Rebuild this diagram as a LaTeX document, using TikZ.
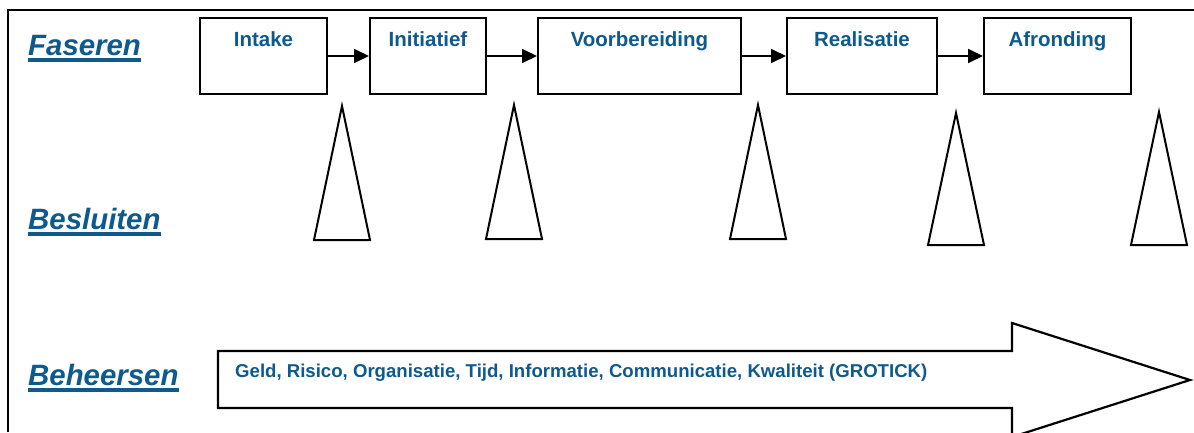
\documentclass[tikz,border=0pt]{standalone}
\usepackage{fontspec}
\setmainfont{Liberation Sans}
\usetikzlibrary{arrows.meta}
\definecolor{phblue}{RGB}{14,90,140}
\tikzset{
  phase/.style={draw=black, line width=2pt, fill=white, inner sep=0pt,
    text height=28pt, text depth=48pt, font=\fontsize{20.5pt}{24pt}\selectfont\bfseries, text=phblue},
  conn/.style={line width=1.8pt, -{Triangle[length=15pt,width=14pt]}},
  heading/.style={anchor=base west, inner sep=0pt, text=phblue, font=\fontsize{29.4pt}{34pt}\selectfont\bfseries\itshape},
  uline/.style={draw=phblue, line width=3.5pt},
  gate/.style={draw=black, line width=2pt, fill=white, line join=miter},
  bigarrow/.style={draw=black, line width=2.2pt, fill=white, line join=miter},
  frameline/.style={draw=black, line width=2.5pt}
}
\begin{document}
\begin{tikzpicture}[x=1pt,y=-1pt]
\useasboundingbox (0,0) rectangle (1194,432);
% frame
\draw[frameline] (8,432) -- (8,10) -- (1194,10);
% headings
\node[heading] (fas) at (28,55) {Faseren};
\draw[uline] ([yshift=-5pt]fas.base west) -- ([yshift=-5pt]fas.base east);
\node[heading] (bes) at (28,229) {Besluiten};
\draw[uline] ([yshift=-5pt]bes.base west) -- ([yshift=-5pt]bes.base east);
\node[heading] (beh) at (28,385) {Beheersen};
\draw[uline] ([yshift=-5pt]beh.base west) -- ([yshift=-5pt]beh.base east);
% phases
\node[phase, minimum width=127pt] (intake) at (263.5,56) {Intake};
\node[phase, minimum width=116pt] (init) at (428,56) {Initiatief};
\node[phase, minimum width=203pt] (voor) at (639.5,56) {Voorbereiding};
\node[phase, minimum width=150pt] (real) at (862,56) {Realisatie};
\node[phase, minimum width=147pt] (afr) at (1057.5,56) {Afronding};
\draw[conn] (intake.east) -- (init.west);
\draw[conn] (init.east) -- (voor.west);
\draw[conn] (voor.east) -- (real.west);
\draw[conn] (real.east) -- (afr.west);
% decision gates
\draw[gate] (342,106) -- (370,240) -- (314,240) -- cycle;
\draw[gate] (514,105) -- (542,239) -- (486,239) -- cycle;
\draw[gate] (758,105) -- (786,239) -- (730,239) -- cycle;
\draw[gate] (956,113) -- (984,245) -- (928,245) -- cycle;
\draw[gate] (1159,112) -- (1187,245) -- (1131,245) -- cycle;
% control arrow
\draw[bigarrow] (218,351) -- (1012,351) -- (1012,323) -- (1190,380) -- (1012,437) -- (1012,408) -- (218,408) -- cycle;
\node[anchor=base west, inner sep=0pt, text=phblue, font=\fontsize{18.6pt}{22pt}\selectfont\bfseries] (grotick) at (235,377) {Geld, Risico, Organisatie, Tijd, Informatie, Communicatie, Kwaliteit (GROTICK)};
\end{tikzpicture}
\end{document}
